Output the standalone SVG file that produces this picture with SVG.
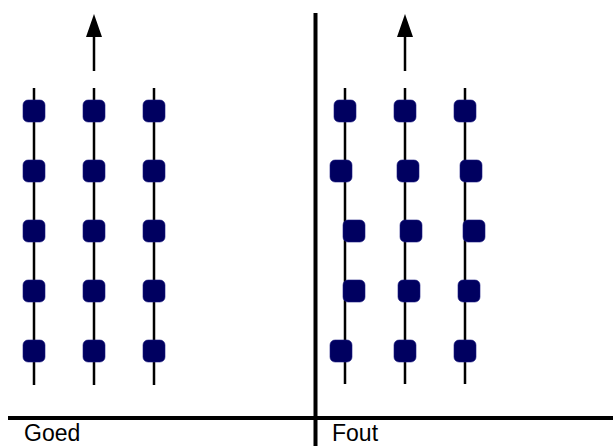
<svg xmlns="http://www.w3.org/2000/svg" width="613" height="446" viewBox="0 0 613 446">
<style>
.ln{stroke:#000;stroke-width:2.5;fill:none}
.frame{stroke:#000;stroke-width:4;fill:none}
.dot{fill:#000060;stroke:#1a1a80;stroke-width:0.6}
.lbl{font-family:"Liberation Sans",Arial,sans-serif;font-size:23px;fill:#000}
</style>
<defs>
<rect id="d" class="dot" x="-11" y="-11" width="22" height="22" rx="5" ry="5"/>
</defs>
<g id="frame">
<line class="frame" x1="315.5" y1="13" x2="315.5" y2="446"/>
<line class="frame" x1="8" y1="418" x2="613" y2="418"/>
</g>
<g id="connectors">
<line class="ln" x1="34" y1="88" x2="34" y2="385"/>
<line class="ln" x1="94" y1="88" x2="94" y2="385"/>
<line class="ln" x1="154" y1="88" x2="154" y2="385"/>
<line class="ln" x1="345" y1="88" x2="345" y2="384"/>
<line class="ln" x1="405" y1="88" x2="405" y2="384"/>
<line class="ln" x1="465" y1="88" x2="465" y2="384"/>
<path d="M94,37 L94,71" class="ln"/>
<path d="M94,14 L86,37 L102,37 Z" fill="#000"/>
<path d="M405,37 L405,71" class="ln"/>
<path d="M405,14 L397,37 L413,37 Z" fill="#000"/>
</g>
<g id="goed">
<use href="#d" x="34" y="111"/><use href="#d" x="94" y="111"/><use href="#d" x="154" y="111"/>
<use href="#d" x="34" y="171"/><use href="#d" x="94" y="171"/><use href="#d" x="154" y="171"/>
<use href="#d" x="34" y="231"/><use href="#d" x="94" y="231"/><use href="#d" x="154" y="231"/>
<use href="#d" x="34" y="291"/><use href="#d" x="94" y="291"/><use href="#d" x="154" y="291"/>
<use href="#d" x="34" y="351"/><use href="#d" x="94" y="351"/><use href="#d" x="154" y="351"/>
<text class="lbl" x="24" y="441">Goed</text>
</g>
<g id="fout">
<use href="#d" x="345" y="111"/><use href="#d" x="405" y="111"/><use href="#d" x="465" y="111"/>
<use href="#d" x="341" y="171"/><use href="#d" x="408" y="171"/><use href="#d" x="471" y="171"/>
<use href="#d" x="354" y="231"/><use href="#d" x="411" y="231"/><use href="#d" x="474" y="231"/>
<use href="#d" x="354" y="291"/><use href="#d" x="409" y="291"/><use href="#d" x="469" y="291"/>
<use href="#d" x="341" y="351"/><use href="#d" x="405" y="351"/><use href="#d" x="465" y="351"/>
<text class="lbl" x="332" y="441">Fout</text>
</g>
</svg>
